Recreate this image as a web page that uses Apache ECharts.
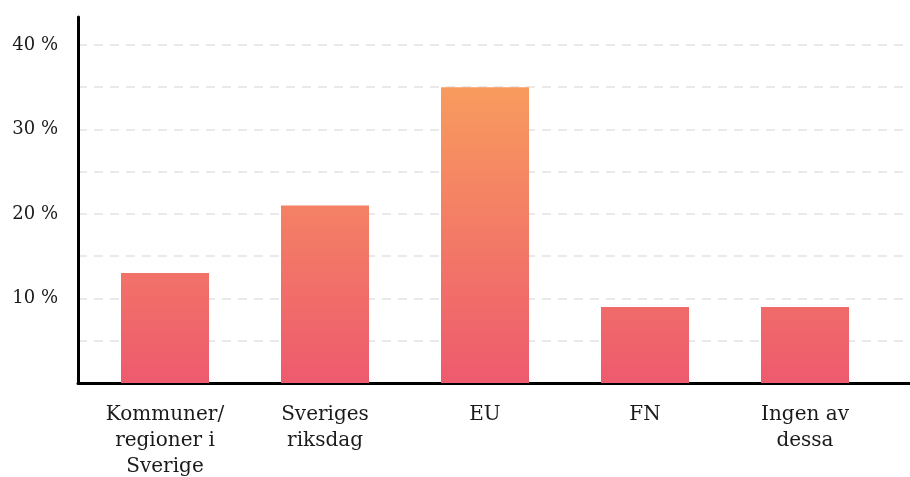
<!DOCTYPE html>
<html>
<head>
<meta charset="utf-8">
<script src="https://cdn.jsdelivr.net/npm/echarts@6/dist/echarts.min.js"></script>
<style>
  html,body{margin:0;padding:0;background:#fff;}
  #chart{width:910px;height:477px;}
</style>
</head>
<body>
<div id="chart"></div>
<script>
const categories = ['Kommuner/\nregioner i\nSverige', 'Sveriges\nriksdag', 'EU', 'FN', 'Ingen av\ndessa']
const values = [13, 21, 35, 9, 9]
const yMax = 43.3 // axeln går lite över 40 %

const font = 'DejaVu Serif'
let chart = echarts.init(document.getElementById('chart'))

// gradienten följer hela plotytan, inte varje stapel
const barColor = new echarts.graphic.LinearGradient(0, 87, 0, 383, [
  {offset: 0, color: '#f89b5e'},
  {offset: 1, color: '#ee5a6e'}
], true)

let option = {
  animation: false,
  grid: [
    {left: 85, right: 25, top: 17, bottom: 94, outerBoundsMode: 'none'},  // staplar
    {left: 78, right: 0, top: 17, bottom: 94, outerBoundsMode: 'none'}    // axellinjer + stödlinjer
  ],
  xAxis: [{
    type: 'category',
    gridIndex: 0,
    data: categories,
    axisLine: {show: false},
    axisTick: {show: false},
    axisLabel: {
      margin: 19,
      fontFamily: font,
      fontSize: 20,
      lineHeight: 26,
      color: '#1a1a1a',
      interval: 0
    }
  }, {
    type: 'value',
    gridIndex: 1,
    min: 0,
    max: 1,
    axisLine: {show: true, lineStyle: {color: '#000', width: 3}},
    axisTick: {show: false},
    axisLabel: {show: false},
    splitLine: {show: false}
  }],
  yAxis: [{
    type: 'value',
    gridIndex: 0,
    min: 0,
    max: yMax,
    show: false
  }, {
    type: 'value',
    gridIndex: 1,
    min: 0,
    max: yMax,
    interval: 5,
    axisLine: {show: true, lineStyle: {color: '#000', width: 3}},
    axisTick: {show: false},
    splitLine: {
      show: true,
      showMaxLine: false,
      lineStyle: {color: '#e2e2e2', width: 1.5, type: [9, 7]}
    },
    axisLabel: {
      margin: 20,
      fontFamily: font,
      fontSize: 18,
      color: '#1a1a1a',
      showMaxLabel: false,
      formatter: v => (v > 0 && v % 10 === 0) ? v + ' %' : ''
    }
  }],
  series: [{
    type: 'bar',
    xAxisIndex: 0,
    yAxisIndex: 0,
    data: values,
    barWidth: 88,
    itemStyle: {color: barColor}
  }]
}
chart.setOption(option)
</script>
</body>
</html>
